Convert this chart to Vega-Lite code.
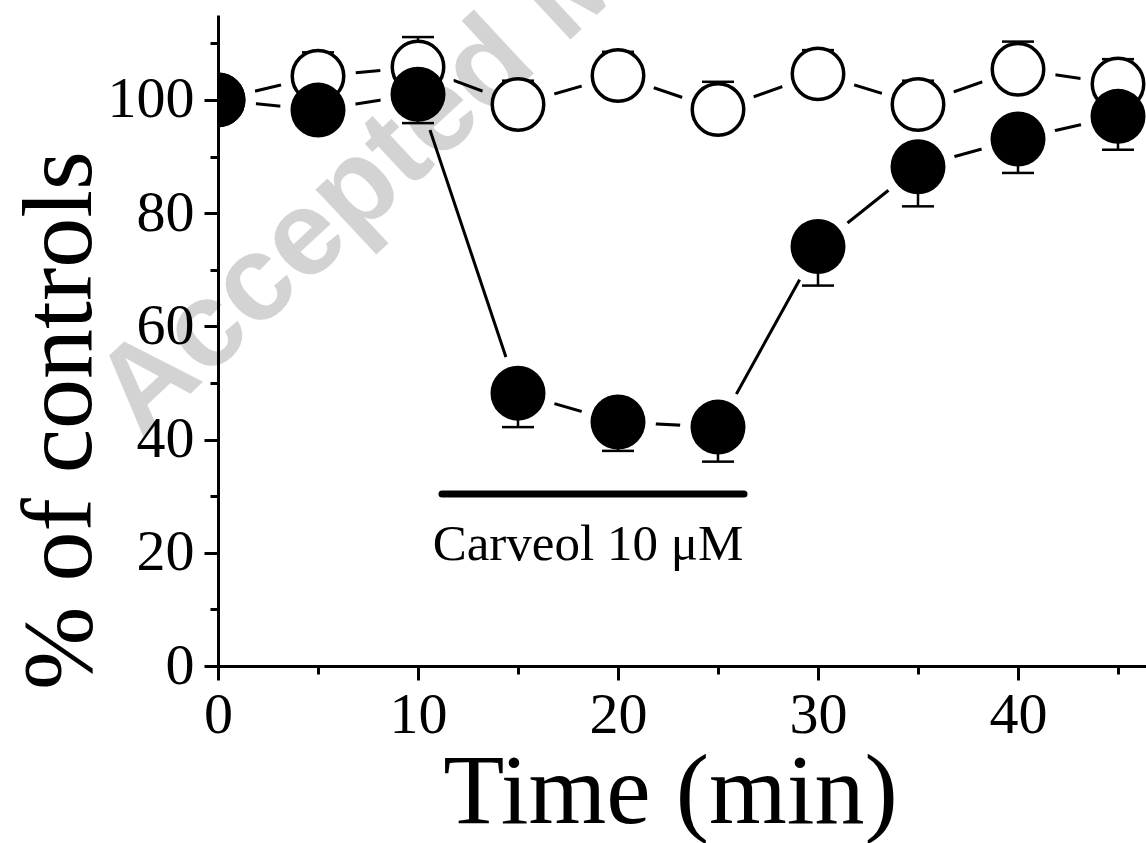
{
  "$schema": "https://vega.github.io/schema/vega-lite/v6.json",
  "width": 928,
  "height": 651,
  "autosize": "none",
  "padding": {"left": 218, "top": 15, "right": 0, "bottom": 177},
  "background": "white",
  "config": {"view": {"stroke": null}, "font": "Liberation Serif"},
  "datasets": {
    "pts": [
      {"series": "control", "t": 0, "y": 100, "e1": null, "e2": null, "cap": null},
      {"series": "control", "t": 5, "y": 104.2, "e1": 104.2, "e2": 108.4, "cap": 108.4},
      {"series": "control", "t": 10, "y": 105.8, "e1": 105.8, "e2": 111.1, "cap": 111.1},
      {"series": "control", "t": 15, "y": 99.2, "e1": 99.2, "e2": 103.4, "cap": 103.4},
      {"series": "control", "t": 20, "y": 104.3, "e1": 104.3, "e2": 108.5, "cap": 108.5},
      {"series": "control", "t": 25, "y": 98.3, "e1": 98.3, "e2": 103.2, "cap": 103.2},
      {"series": "control", "t": 30, "y": 104.6, "e1": 104.6, "e2": 108.8, "cap": 108.8},
      {"series": "control", "t": 35, "y": 99.2, "e1": 99.2, "e2": 103.4, "cap": 103.4},
      {"series": "control", "t": 40, "y": 105.4, "e1": 105.4, "e2": 110.3, "cap": 110.3},
      {"series": "control", "t": 45, "y": 102.8, "e1": 102.8, "e2": 107.2, "cap": 107.2},
      {"series": "carveol", "t": 0, "y": 100, "e1": null, "e2": null, "cap": null},
      {"series": "carveol", "t": 5, "y": 98.2, "e1": 95.8, "e2": 98.2, "cap": 95.8},
      {"series": "carveol", "t": 10, "y": 101, "e1": 95.9, "e2": 101, "cap": 95.9},
      {"series": "carveol", "t": 15, "y": 48.2, "e1": 42.2, "e2": 48.2, "cap": 42.2},
      {"series": "carveol", "t": 20, "y": 43.1, "e1": 38, "e2": 43.1, "cap": 38},
      {"series": "carveol", "t": 25, "y": 42.2, "e1": 36.1, "e2": 42.2, "cap": 36.1},
      {"series": "carveol", "t": 30, "y": 74.1, "e1": 67.2, "e2": 74.1, "cap": 67.2},
      {"series": "carveol", "t": 35, "y": 88.2, "e1": 81.2, "e2": 88.2, "cap": 81.2},
      {"series": "carveol", "t": 40, "y": 93.1, "e1": 87.1, "e2": 93.1, "cap": 87.1},
      {"series": "carveol", "t": 45, "y": 97.1, "e1": 91.2, "e2": 97.1, "cap": 91.2}
    ]
  },
  "layer": [
    {
      "data": {"name": "pts"},
      "mark": {"type": "line", "color": "black", "strokeWidth": 3},
      "encoding": {
        "x": {
          "field": "t", "type": "quantitative",
          "scale": {"domain": [0, 46.4], "nice": false, "zero": false},
          "axis": {
            "values": [0, 5, 10, 15, 20, 25, 30, 35, 40, 45],
            "labelExpr": "datum.value % 10 === 0 ? datum.label : ''",
            "tickSize": {"condition": {"test": "datum.value % 10 !== 0", "value": 8}, "value": 14},
            "tickWidth": 3, "tickColor": "black",
            "domainWidth": 3, "domainColor": "black",
            "labelFont": "Liberation Serif", "labelFontSize": 58, "labelColor": "black",
            "labelPadding": 6, "labelFlush": false, "labelOverlap": false,
            "grid": false, "zindex": 1,
            "title": "Time (min)",
            "titleFont": "Liberation Serif", "titleFontSize": 100, "titleFontWeight": "normal",
            "titleColor": "black", "titleX": 452, "titleY": 156,
            "titleBaseline": "alphabetic", "titleAlign": "center"
          }
        },
        "y": {
          "field": "y", "type": "quantitative",
          "scale": {"domain": [0, 115], "nice": false},
          "axis": {
            "values": [0, 10, 20, 30, 40, 50, 60, 70, 80, 90, 100, 110],
            "labelExpr": "datum.value % 20 === 0 ? datum.label : ''",
            "tickSize": {"condition": {"test": "datum.value % 20 !== 0", "value": 8}, "value": 14},
            "tickWidth": 3, "tickColor": "black",
            "domainWidth": 3, "domainColor": "black",
            "labelFont": "Liberation Serif", "labelFontSize": 58, "labelColor": "black",
            "labelPadding": 10, "labelFlush": false, "labelOverlap": false,
            "grid": false, "zindex": 1,
            "title": "% of controls",
            "titleFont": "Liberation Serif", "titleFontSize": 100, "titleFontWeight": "normal",
            "titleColor": "black", "titleX": -128, "titleY": 405, "titleAngle": -90,
            "titleBaseline": "alphabetic", "titleAlign": "center"
          }
        },
        "detail": {"field": "series"}
      }
    },
    {
      "data": {"name": "pts"},
      "mark": {"type": "point", "shape": "circle", "filled": true, "color": "white", "opacity": 1, "size": 5776, "clip": true},
      "encoding": {
        "x": {"field": "t", "type": "quantitative"},
        "y": {"field": "y", "type": "quantitative"}
      }
    },
    {
      "data": {"values": [{"t": -5.05, "y": 44.7, "label": "Accepted Manuscript"}]},
      "mark": {"type": "text", "font": "Liberation Sans", "fontWeight": "bold", "fontSize": 121, "angle": -43, "align": "left", "baseline": "middle", "color": "black", "opacity": 0.17},
      "encoding": {
        "x": {"field": "t", "type": "quantitative"},
        "y": {"field": "y", "type": "quantitative"},
        "text": {"field": "label"}
      }
    },
    {
      "data": {"name": "pts"},
      "transform": [{"filter": "isValid(datum.cap)"}],
      "mark": {"type": "rule", "color": "black", "strokeWidth": 2.5},
      "encoding": {
        "x": {"field": "t", "type": "quantitative"},
        "y": {"field": "e1", "type": "quantitative"},
        "y2": {"field": "e2"}
      }
    },
    {
      "data": {"name": "pts"},
      "transform": [{"filter": "isValid(datum.cap)"}],
      "mark": {"type": "tick", "orient": "horizontal", "color": "black", "size": 32, "thickness": 2.5, "opacity": 1},
      "encoding": {
        "x": {"field": "t", "type": "quantitative"},
        "y": {"field": "cap", "type": "quantitative"}
      }
    },
    {
      "data": {"name": "pts"},
      "transform": [{"filter": "datum.series === 'control'"}],
      "mark": {"type": "point", "shape": "circle", "filled": false, "fill": "white", "stroke": "black", "strokeWidth": 3.5, "opacity": 1, "size": 2650, "clip": true},
      "encoding": {
        "x": {"field": "t", "type": "quantitative"},
        "y": {"field": "y", "type": "quantitative"}
      }
    },
    {
      "data": {"name": "pts"},
      "transform": [{"filter": "datum.series === 'carveol'"}],
      "mark": {"type": "point", "shape": "circle", "filled": true, "color": "black", "opacity": 1, "size": 3025, "clip": true},
      "encoding": {
        "x": {"field": "t", "type": "quantitative"},
        "y": {"field": "y", "type": "quantitative"}
      }
    },
    {
      "data": {"values": [{"x1": 11.2, "x2": 26.3, "y": 30.4}]},
      "mark": {"type": "rule", "color": "black", "strokeWidth": 7, "strokeCap": "round"},
      "encoding": {
        "x": {"field": "x1", "type": "quantitative"},
        "x2": {"field": "x2"},
        "y": {"field": "y", "type": "quantitative"}
      }
    },
    {
      "data": {"values": [{"x": 18.5, "y": 18.7, "label": "Carveol 10 μM"}]},
      "mark": {"type": "text", "font": "Liberation Serif", "fontSize": 51, "align": "center", "baseline": "alphabetic", "color": "black"},
      "encoding": {
        "x": {"field": "x", "type": "quantitative"},
        "y": {"field": "y", "type": "quantitative"},
        "text": {"field": "label"}
      }
    }
  ]
}
